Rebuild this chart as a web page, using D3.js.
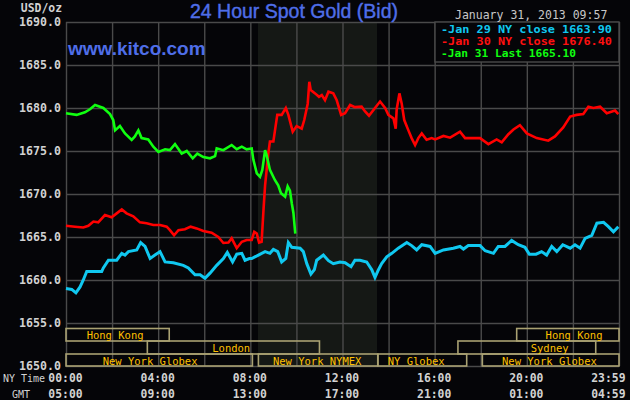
<!DOCTYPE html>
<html><head><meta charset="utf-8">
<script src="https://cdn.jsdelivr.net/npm/d3@7"></script>
<style>body{margin:0;background:#050508}svg{display:block}</style>
</head><body>
<svg id="c" width="630" height="400"></svg>
<script>
// ---------- data ----------
const yTicks = [1650,1655,1660,1665,1670,1675,1680,1685,1690];
const xTickHours = [0,4,8,12,16,20,24];
const nyTimeLabels = ["00:00","04:00","08:00","12:00","16:00","20:00","23:59"];
const gmtLabels = ["05:00","09:00","13:00","17:00","21:00","01:00","04:59"];
const gridHours = [0,2,4,6,8,10,12,14,16,18,20,22,24];
const shadeHours = [8.33, 13.5];

const sessionNames = ["Hong Kong","London","New York Globex","New York NYMEX","NY Globex","Sydney","Hong Kong","New York Globex"];
const sessionRow   = [0,1,2,2,2,1,0,2];
const sessionStart = [0,3.53,0,8.35,13.54,17.01,19.56,18.07];
const sessionEnd   = [4.48,11.0,8.09,13.53,17.39,22.99,24,24];
const sessionLabelAt = [2.13,7.17,3.65,10.9,15.2,20.99,22.05,20.98];

const legendLabels = ["-Jan 29 NY close 1663.90","-Jan 30 NY close 1676.40","-Jan 31 Last 1665.10"];

const jan29 = [[0,1659.0],[0.25,1658.9],[0.43,1658.5],[0.61,1659.2],[0.75,1660.0],[0.90,1661.0],[1.19,1661.0],[1.55,1661.0],[1.62,1661.4],[1.84,1662.3],[2.20,1662.3],[2.42,1663.1],[2.56,1662.9],[2.71,1663.3],[3.07,1663.5],[3.24,1664.35],[3.43,1663.9],[3.65,1662.5],[3.86,1662.9],[4.08,1663.3],[4.30,1662.1],[4.66,1662.0],[5.09,1661.7],[5.31,1661.4],[5.60,1660.6],[5.82,1660.6],[6.03,1660.2],[6.25,1660.8],[6.54,1661.7],[6.83,1662.5],[7.00,1663.2],[7.23,1662.1],[7.41,1663.0],[7.63,1663.1],[7.77,1662.3],[7.96,1662.5],
[8.06,1662.5],[8.35,1662.9],[8.64,1663.3],[8.85,1663.1],[9.00,1663.55],[9.19,1663.3],[9.36,1662.1],[9.54,1662.5],[9.65,1664.35],[9.80,1663.8],[10.16,1663.7],[10.30,1663.3],[10.45,1661.9],[10.63,1660.7],[10.78,1661.2],[10.88,1662.3],[11.17,1662.9],[11.39,1662.25],[11.60,1661.9],[11.89,1662.1],[12.11,1662.0],[12.37,1661.55],[12.54,1662.3],[12.76,1662.3],[13.05,1662.1],[13.27,1661.2],[13.41,1660.3],[13.56,1661.2],[13.70,1661.9],[13.92,1662.7],[14.14,1663.1],[14.42,1663.7],[14.79,1664.35],[15.00,1664.0],[15.22,1663.5],[15.44,1664.1],[15.80,1663.9],
[16.02,1663.1],[16.38,1663.5],[16.81,1663.7],[17.10,1663.9],[17.25,1663.6],[17.46,1664.0],[17.97,1664.0],[18.19,1663.4],[18.55,1663.1],[18.76,1663.9],[19.05,1663.9],[19.34,1664.6],[19.63,1664.1],[19.92,1663.8],[20.11,1663.0],[20.40,1663.0],[20.64,1663.3],[20.86,1662.9],[21.08,1663.9],[21.30,1663.3],[21.56,1664.1],[21.88,1663.7],[22.09,1664.1],[22.31,1663.7],[22.53,1664.85],[22.82,1665.2],[23.04,1666.6],[23.33,1666.7],[23.54,1666.2],[23.76,1665.6],[23.97,1666.2]];

const jan30 = [[0,1666.3],[0.39,1666.2],[0.75,1666.1],[0.97,1666.3],[1.19,1666.8],[1.40,1666.7],[1.69,1667.55],[1.98,1667.3],[2.20,1667.75],[2.42,1668.2],[2.63,1667.75],[2.92,1667.4],[3.21,1666.7],[3.50,1666.6],[3.79,1666.4],[4.08,1666.4],[4.37,1666.2],[4.51,1665.8],[4.69,1665.2],[4.88,1665.8],[5.16,1665.9],[5.41,1666.2],[5.67,1666.0],[5.96,1665.7],[6.32,1665.5],[6.61,1665.0],[6.83,1664.3],[7.05,1664.35],[7.19,1664.85],[7.41,1663.7],[7.63,1664.45],[7.84,1664.65],
[8.06,1664.65],[8.17,1665.6],[8.28,1665.4],[8.38,1664.35],[8.49,1664.45],[8.57,1668.1],[8.64,1671.0],[8.78,1674.7],[8.85,1676.1],[9.00,1676.1],[9.07,1677.4],[9.17,1679.2],[9.36,1679.2],[9.54,1680.0],[9.65,1679.2],[9.84,1677.25],[10.01,1677.9],[10.23,1677.6],[10.34,1678.6],[10.49,1680.5],[10.56,1683.05],[10.62,1682.1],[10.81,1681.7],[10.98,1681.3],[11.10,1681.5],[11.24,1680.9],[11.39,1681.9],[11.60,1681.7],[11.75,1680.9],[11.94,1679.2],[12.11,1679.4],[12.33,1680.35],[12.54,1680.1],[12.83,1680.15],[12.98,1679.6],[13.15,1679.1],[13.41,1680.0],[13.63,1680.75],[13.85,1680.0],[13.99,1679.2],[14.21,1678.8],[14.31,1677.6],[14.35,1679.8],[14.47,1681.7],[14.57,1680.5],[14.68,1678.6],[14.86,1677.4],[15.00,1676.5],[15.15,1675.7],[15.29,1676.5],[15.44,1677.05],[15.65,1676.3],[15.87,1676.5],
[16.02,1676.35],[16.38,1676.75],[16.67,1676.55],[17.10,1677.25],[17.32,1676.5],[17.97,1676.5],[18.33,1675.8],[18.69,1676.35],[18.91,1676.0],[19.20,1676.95],[19.42,1677.5],[19.70,1678.0],[20.00,1677.05],[20.43,1676.5],[20.93,1676.2],[21.22,1676.7],[21.58,1677.75],[21.88,1679.0],[22.16,1679.2],[22.45,1679.3],[22.67,1680.15],[22.89,1680.0],[23.18,1680.15],[23.47,1679.4],[23.83,1679.7],[23.97,1679.3]];

const jan31 = [[0,1679.4],[0.46,1679.2],[0.82,1679.5],[1.04,1679.85],[1.26,1680.35],[1.62,1680.0],[1.91,1679.3],[2.05,1678.6],[2.13,1677.4],[2.34,1677.9],[2.56,1677.05],[2.85,1676.3],[2.99,1676.7],[3.14,1677.4],[3.28,1676.5],[3.57,1676.35],[3.79,1675.5],[4.01,1674.9],[4.30,1675.2],[4.51,1675.1],[4.73,1675.8],[5.02,1674.7],[5.24,1675.0],[5.50,1674.15],[5.70,1674.7],[5.96,1674.3],[6.25,1674.15],[6.47,1674.4],[6.54,1675.3],[6.83,1675.1],[7.19,1675.7],[7.41,1675.2],[7.63,1675.5],[7.84,1675.2],[8.06,1675.3],[8.13,1674.0],[8.28,1672.4],[8.42,1672.0],[8.52,1672.8],[8.64,1675.1],[8.71,1674.5],[8.85,1672.8],[9.07,1671.6],[9.21,1671.0],[9.33,1670.1],[9.51,1669.7],[9.62,1670.9],[9.72,1670.4],[9.80,1668.9],[9.87,1667.8],[9.95,1665.4]];

// ---------- chart ----------
const svg = d3.select("#c");
const L=66, R=619, T=22, B=366;
const x = d3.scaleLinear().domain([0,24]).range([L,R]);
const y = d3.scaleLinear().domain([1650,1690]).range([B,T]);
const MONO = "'DejaVu Sans Mono', monospace";
const GRID = "#4a4a4a";

svg.append("rect").attr("width",630).attr("height",400).attr("fill","#050508");
svg.append("rect").attr("x",x(shadeHours[0])).attr("y",T).attr("width",x(shadeHours[1])-x(shadeHours[0])).attr("height",B-T).attr("fill","#151815");

// grid via axes
const gy = svg.append("g").attr("transform",`translate(${L},0)`)
  .call(d3.axisLeft(y).tickValues(yTicks).tickSize(-(R-L)).tickFormat(""));
gy.select(".domain").remove();
gy.selectAll("line").attr("stroke",GRID).attr("stroke-width",1.4);
const gx = svg.append("g").attr("transform",`translate(0,${B})`)
  .call(d3.axisBottom(x).tickValues(gridHours).tickSize(-(B-T)).tickFormat(""));
gx.select(".domain").remove();
gx.selectAll("line").attr("stroke",GRID).attr("stroke-width",1.4);

// y labels
const yl = svg.append("g").attr("transform",`translate(${L},0)`)
  .call(d3.axisLeft(y).tickValues(yTicks).tickSize(0).tickPadding(5).tickFormat(d3.format(".1f")));
yl.select(".domain").remove();
yl.selectAll("text").attr("font-family",MONO).attr("font-weight","bold").attr("font-size",11.6).attr("fill","#d2d2d2");

// x labels
function xLabels(labels, yy){
  const g = svg.append("g").attr("transform",`translate(0,${yy})`)
    .call(d3.axisBottom(x).tickValues(xTickHours).tickSize(0).tickPadding(0).tickFormat((d,i)=>labels[i]));
  g.select(".domain").remove();
  g.selectAll("text").attr("font-family",MONO).attr("font-weight","bold").attr("font-size",11.4).attr("fill","#d2d2d2").attr("dy","0")
    .attr("text-anchor",(d,i)=> i===labels.length-1 ? "end":"middle")
    .attr("x",(d,i)=> i===labels.length-1 ? 6 : -1);
}
xLabels(nyTimeLabels, 382);
xLabels(gmtLabels, 397.5);
svg.append("text").attr("x",24).attr("y",382).attr("text-anchor","middle").attr("font-family",MONO).attr("font-size",10).attr("fill","#d2d2d2").text("NY Time");
svg.append("text").attr("x",21).attr("y",397.5).attr("text-anchor","middle").attr("font-family",MONO).attr("font-size",10).attr("fill","#d2d2d2").text("GMT");
svg.append("text").attr("x",62).attr("y",12).attr("text-anchor","end").attr("font-family",MONO).attr("font-weight","bold").attr("font-size",11.4).attr("fill","#d2d2d2").text("USD/oz");

// session boxes
const rowTop = [328.5, 341, 354];
const rowH = [12.5, 13, 12];
const sg = svg.append("g");
sessionNames.forEach((n,i)=>{
  const r = sessionRow[i];
  sg.append("rect").attr("x",x(sessionStart[i])).attr("y",rowTop[r]).attr("width",x(sessionEnd[i])-x(sessionStart[i])).attr("height",rowH[r])
    .attr("fill","none").attr("stroke","#a9a172").attr("stroke-width",1.6);
});
sessionNames.forEach((n,i)=>{
  const r = sessionRow[i];
  sg.append("text").attr("x",x(sessionLabelAt[i])).attr("y",rowTop[r]+10.5).attr("text-anchor","middle")
    .attr("font-family",MONO).attr("font-size",10.5).attr("fill","#ffc000").text(n);
});

// lines
const line = d3.line().x(d=>x(d[0])).y(d=>y(d[1]));
svg.append("path").datum(jan29).attr("d",line).attr("fill","none").attr("stroke","#10c8f0").attr("stroke-width",3);
svg.append("path").datum(jan30).attr("d",line).attr("fill","none").attr("stroke","#ff0000").attr("stroke-width",2.6);
svg.append("path").datum(jan31).attr("d",line).attr("fill","none").attr("stroke","#10ff10").attr("stroke-width",2.6);

// legend
svg.append("rect").attr("x",435).attr("y",T).attr("width",R-435).attr("height",40).attr("fill","#050508").attr("stroke",GRID).attr("stroke-width",1.4);
const legColors = ["#10c8f0","#ff1010","#10ff10"];
const legWidths = [171, 171, 135];
legendLabels.forEach((t,i)=>{
  svg.append("text").attr("x",441).attr("y",33+i*12).attr("font-family",MONO).attr("font-weight","bold").attr("font-size",10.2)
    .attr("textLength",legWidths[i]).attr("lengthAdjust","spacingAndGlyphs")
    .attr("fill",legColors[i]).text(t);
});

// titles
svg.append("text").attr("x",294).attr("y",18).attr("text-anchor","middle").attr("font-family","'Liberation Sans', Arial, sans-serif")
  .attr("font-size",19.5).attr("stroke","#4f6ee8").attr("stroke-width",0.4).attr("fill","#4f6ee8").text("24 Hour Spot Gold (Bid)");
svg.append("text").attr("x",68).attr("y",55).attr("font-family","'Liberation Sans', Arial, sans-serif").attr("font-weight","bold")
  .attr("font-size",19).attr("fill","#4f6ee8").text("www.kitco.com");
svg.append("text").attr("x",455).attr("y",19).attr("font-family",MONO).attr("font-size",11.5).attr("fill","#c8c8c8").text("January 31, 2013 09:57");
</script>
</body></html>
